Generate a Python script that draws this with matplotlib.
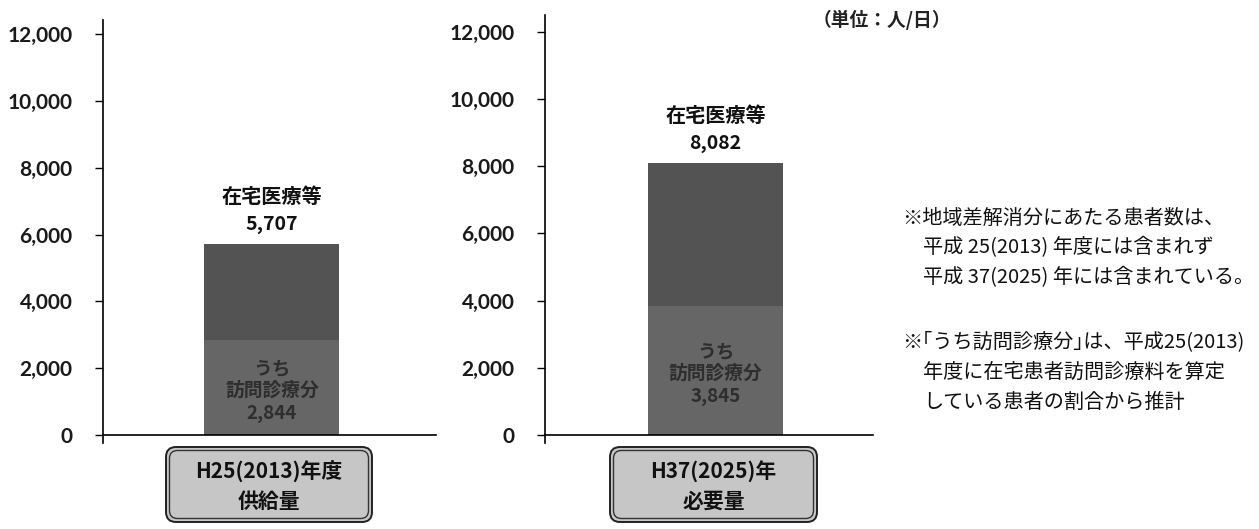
import matplotlib
matplotlib.use('Agg')
import matplotlib.pyplot as plt
from matplotlib.patches import FancyBboxPatch

plt.rcParams['font.family'] = ['Noto Sans CJK JP', 'DejaVu Sans']

# values (persons / day)
totals = [5707, 8082]
home_visits = [2844, 3845]
total_label = '在宅医療等'
visit_label = 'うち\n訪問診療分'
categories = [['H25(2013)年度', '供給量'], ['H37(2025)年', '必要量']]
yticks = [0, 2000, 4000, 6000, 8000, 10000, 12000]
unit_text = '（単位：人/日）'
note1 = ['※地域差解消分にあたる患者数は、',
         '平成 25(2013) 年度には含まれず',
         '平成 37(2025) 年には含まれている。']
note2 = ['※｢うち訪問診療分｣は、平成25(2013)',
         '年度に在宅患者訪問診療料を算定',
         'している患者の割合から推計']

W, H = 1259, 529
fig = plt.figure(figsize=(W / 100, H / 100), dpi=100)

# pixel-based helper axes for boxes and notes
over = fig.add_axes([0, 0, 1, 1], zorder=5)
over.set_xlim(0, W)
over.set_ylim(H, 0)
over.axis('off')
over.patch.set_alpha(0)

# axes geometry in pixels: (left, right, top, bottom at zero, bar centre)
panels = [(103, 436, 20, 435, 0.507), (545, 873, 15, 435, 0.52)]
box_x = [(166, 372), (610, 817)]

for i, (l, r, t, b, cpos) in enumerate(panels):
    ax = fig.add_axes([l / W, 1 - b / H, (r - l) / W, (b - t) / H])
    ppk = 33.4 if i == 0 else 33.6  # pixels per 1000
    ax.set_ylim(0, (b - t) / ppk * 1000)
    ax.set_xlim(-cpos, 1 - cpos)
    bw = 135 / (r - l)

    rest = totals[i] - home_visits[i]
    ax.bar(0, home_visits[i], width=bw, color='#666666', zorder=2)
    ax.bar(0, rest, bottom=home_visits[i], width=bw, color='#535353', zorder=2)

    ax.set_yticks(yticks)
    ax.set_yticklabels([f'{v:,}' for v in yticks], family='Lato',
                       fontsize=15, fontweight='bold', color='#1a1a1a')
    ax.tick_params(axis='y', direction='out', length=6, width=1, pad=16)
    ax.set_xticks([])
    for s in ['top', 'right']:
        ax.spines[s].set_visible(False)
    ax.spines['left'].set_linewidth(1.2)
    ax.spines['bottom'].set_linewidth(1.2)
    ax.spines['left'].set_bounds(-240, ax.get_ylim()[1])

    # labels over the bar
    ax.annotate(f'{totals[i]:,}', (0, totals[i]), xytext=(0, 20),
                textcoords='offset pixels', ha='center', va='center',
                fontsize=14, fontweight='bold', color='#111111')
    ax.annotate(total_label, (0, totals[i]), xytext=(0, 48),
                textcoords='offset pixels', ha='center', va='center',
                fontsize=14.5, fontweight='bold', color='#111111')
    # label inside the lower segment
    mid = home_visits[i] / 2
    ax.annotate(visit_label, (0, mid), xytext=(0, 8),
                textcoords='offset pixels', ha='center', va='center',
                fontsize=13.5, fontweight='bold', color='#2e2e2e',
                linespacing=1.2)
    ax.annotate(f'{home_visits[i]:,}', (0, mid), xytext=(0, -26),
                textcoords='offset pixels', ha='center', va='center',
                fontsize=13.5, fontweight='bold', color='#2e2e2e')

    # category box with double border
    x0, x1 = box_x[i]
    outer = FancyBboxPatch((x0 + 8, 455), x1 - x0 - 16, 59,
                           boxstyle='round,pad=8,rounding_size=10',
                           facecolor='#c6c6c6', edgecolor='#222222', lw=1.4)
    inner = FancyBboxPatch((x0 + 8, 455), x1 - x0 - 16, 59,
                           boxstyle='round,pad=4.5,rounding_size=8',
                           facecolor='none', edgecolor='#333333', lw=1.0)
    over.add_patch(outer)
    over.add_patch(inner)
    cx = (x0 + x1) / 2
    over.text(cx, 472, categories[i][0], ha='center', va='center',
              fontsize=15, fontweight='bold', color='#111111')
    over.text(cx, 501, categories[i][1], ha='center', va='center',
              fontsize=15, fontweight='bold', color='#111111')

over.text(882, 20, unit_text, ha='center', va='center', fontsize=13.5,
          fontweight='bold', color='#222222')

for lines, y0 in [(note1, 218), (note2, 342)]:
    for k, line in enumerate(lines):
        x = 902 if k == 0 else 923
        over.text(x, y0 + k * 30, line, ha='left', va='center',
                  fontsize=14.5, color='#111111')

fig.savefig('out.png', dpi=100, facecolor='white')
